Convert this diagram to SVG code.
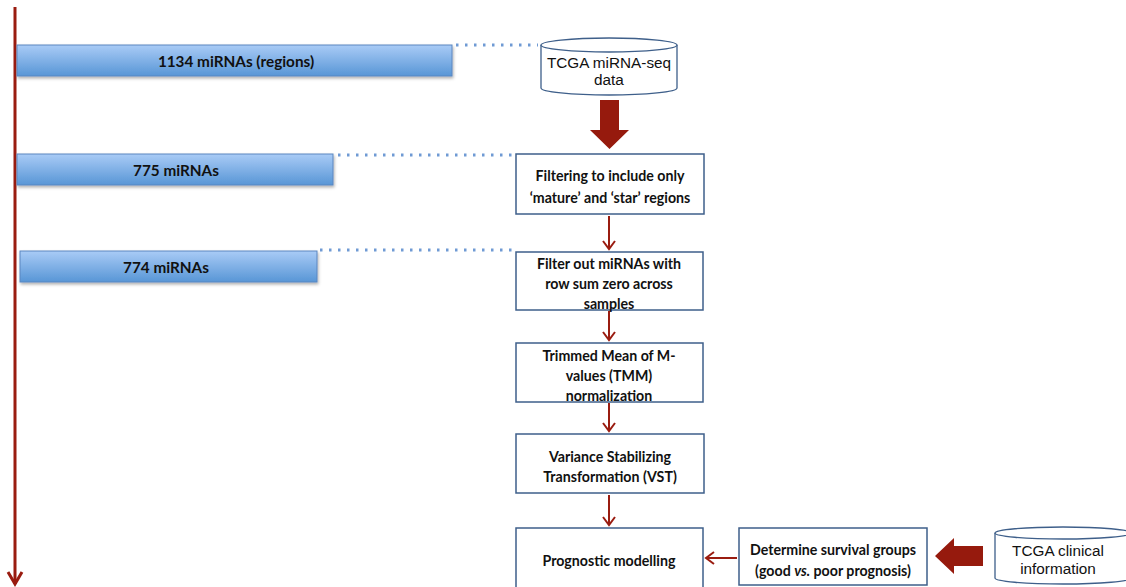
<svg xmlns="http://www.w3.org/2000/svg" width="1126" height="587" viewBox="0 0 1126 587">
<style>
.bar{fill:url(#barg);stroke:#5a86c0;stroke-width:1}
.bt{font-family:Lato,"Liberation Sans",sans-serif;font-weight:bold;font-size:14.2px;fill:#111;text-anchor:middle}
.lt{font-size:15.3px}
.box{fill:#fff;stroke:#3e5f8a;stroke-width:1.5}
.cyl{fill:#fff;stroke:#3e5f8a;stroke-width:1.3}
.ct{font-family:"Liberation Sans",Arial,sans-serif;font-size:15.3px;fill:#111;text-anchor:middle}
.dot{stroke:#6f9ad4;stroke-width:3;stroke-dasharray:2.5 6.5;fill:none}
.arr{stroke:#9a1c10;stroke-width:2;fill:none}
.blk{fill:#961a0d}
</style>
<defs>
<linearGradient id="barg" x1="0" y1="0" x2="0" y2="1">
<stop offset="0" stop-color="#a9cbf6"/>
<stop offset="1" stop-color="#5896d6"/>
</linearGradient>
<filter id="sh" x="-5%" y="-20%" width="110%" height="150%">
<feDropShadow dx="1" dy="2" stdDeviation="1.5" flood-color="#000" flood-opacity="0.3"/>
</filter>
</defs>
<g id="connectors">
<line x1="15" y1="7" x2="15" y2="584" stroke="#9a1c10" stroke-width="3"/>
<path d="M8 572 L15 584 L22 572" stroke="#9a1c10" stroke-width="3" fill="none"/>
<line class="dot" x1="456" y1="45" x2="538" y2="45"/>
<line class="dot" x1="338" y1="155" x2="512" y2="155"/>
<line class="dot" x1="320" y1="250" x2="512" y2="250"/>
<path class="blk" d="M600 100 H619 V130 H629 L609.5 149 L590 130 H600 Z"/>
<path class="arr" d="M609 216 V249 M603 241 L609 249 L615 241"/>
<path class="arr" d="M609 311 V340 M603 332 L609 340 L615 332"/>
<path class="arr" d="M609 403 V431 M603 423 L609 431 L615 423"/>
<path class="arr" d="M609 495 V525 M603 517 L609 525 L615 517"/>
<path class="arr" d="M737 558 H706 M714 552 L706 558 L714 564"/>
<path class="blk" d="M983 546 V566 H954 V574 L935 556 L954 538 V546 Z"/>
</g>
<g id="bar1"><rect class="bar" x="17" y="45" width="435" height="31" filter="url(#sh)"/><text class="bt lt" x="236" y="67">1134 miRNAs (regions)</text></g>
<g id="bar2"><rect class="bar" x="17" y="154" width="316" height="31" filter="url(#sh)"/><text class="bt lt" x="176" y="176">775 miRNAs</text></g>
<g id="bar3"><rect class="bar" x="20" y="251" width="297" height="31" filter="url(#sh)"/><text class="bt lt" x="166" y="273">774 miRNAs</text></g>
<g id="db1">
<path class="cyl" d="M541 45 V88 A68 7 0 0 0 677 88 V45"/>
<ellipse class="cyl" cx="609" cy="45" rx="68" ry="7"/>
<text class="ct" x="609" y="68">TCGA miRNA-seq</text>
<text class="ct" x="609" y="85">data</text>
</g>
<g id="n1"><rect class="box" x="516" y="154" width="188" height="60"/>
<text class="bt" x="610" y="181">Filtering to include only</text>
<text class="bt" x="610" y="203">‘mature’ and ‘star’ regions</text></g>
<g id="n2"><rect class="box" x="516" y="252" width="187" height="58"/>
<text class="bt" x="609" y="269">Filter out miRNAs with</text>
<text class="bt" x="609" y="289">row sum zero across</text>
<text class="bt" x="609" y="309">samples</text></g>
<g id="n3"><rect class="box" x="516" y="343" width="187" height="59"/>
<text class="bt" x="609" y="361">Trimmed Mean of M-</text>
<text class="bt" x="609" y="381">values (TMM)</text>
<text class="bt" x="609" y="401">normalization</text></g>
<g id="n4"><rect class="box" x="516" y="434" width="188" height="59"/>
<text class="bt" x="610" y="462">Variance Stabilizing</text>
<text class="bt" x="610" y="482">Transformation (VST)</text></g>
<g id="n5"><rect class="box" x="516" y="528" width="187" height="62"/>
<text class="bt" x="609" y="566">Prognostic modelling</text></g>
<g id="n6"><rect class="box" x="739" y="528" width="188" height="57"/>
<text class="bt" x="833" y="555">Determine survival groups</text>
<text class="bt" x="833" y="576">(good <tspan font-style="italic">vs.</tspan> poor prognosis)</text></g>
<g id="db2">
<path class="cyl" d="M995 533 V578 A68 6 0 0 0 1131 578 V533"/>
<ellipse class="cyl" cx="1063" cy="533" rx="68" ry="6"/>
<text class="ct" x="1058" y="556">TCGA clinical</text>
<text class="ct" x="1058" y="574">information</text>
</g>
</svg>
